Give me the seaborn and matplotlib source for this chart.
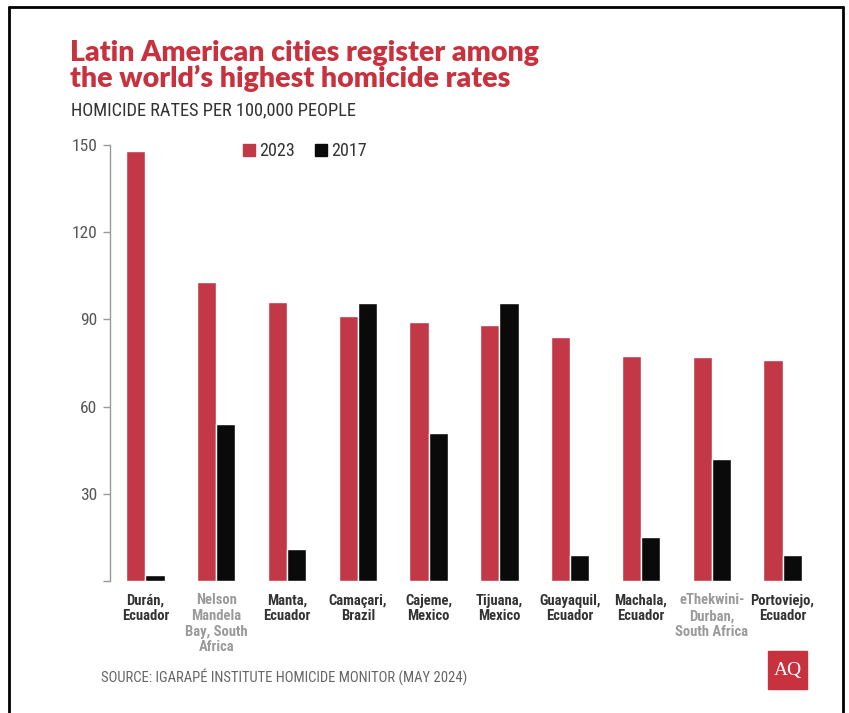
import matplotlib
matplotlib.use("Agg")
import matplotlib.pyplot as plt
from matplotlib.patches import Rectangle
from matplotlib.lines import Line2D
from matplotlib import font_manager
import seaborn as sns
import pandas as pd

cities = ["Durán,\nEcuador", "Nelson\nMandela\nBay, South\nAfrica", "Manta,\nEcuador",
          "Camaçari,\nBrazil", "Cajeme,\nMexico", "Tijuana,\nMexico", "Guayaquil,\nEcuador",
          "Machala,\nEcuador", "eThekwini-\nDurban,\nSouth Africa", "Portoviejo,\nEcuador"]
rate_2023 = [148, 103, 96, 91, 89, 88, 84, 77.5, 77, 76]
rate_2017 = [2, 54, 11, 95.5, 51, 95.5, 9, 15, 42, 9]
years = ["2023", "2017"]
y_ticks = [0, 30, 60, 90, 120, 150]
y_tick_labels = ["", "30", "60", "90", "120", "150"]
grey_labels = [1, 8]

RED = "#C33847"
BLACK = "#0a0a0a"

df = pd.DataFrame({
    "city": cities * 2,
    "year": [years[0]] * len(cities) + [years[1]] * len(cities),
    "rate": rate_2023 + rate_2017,
})

sns.set_theme(style="white")
names = {f.name for f in font_manager.fontManager.ttflist}
cond = [n for n in ["Liberation Sans Narrow", "Roboto Condensed", "Open Sans Condensed",
                    "DejaVu Sans Condensed"] if n in names]
COND = cond[0] if cond else "DejaVu Sans"
plt.rcParams["font.family"] = [COND, "DejaVu Sans"]
plt.rcParams["font.stretch"] = "condensed"

fig = plt.figure(figsize=(8.49, 7.13), dpi=100)
ax = fig.add_axes([110 / 849, 1 - 581 / 713, (818 - 110) / 849, (581 - 145) / 713])

sns.barplot(data=df, x="city", y="rate", hue="year", hue_order=years,
            palette={"2023": RED, "2017": BLACK}, width=0.54, gap=0,
            saturation=1, ax=ax, legend=False)

ax.set_xlim(-0.5, len(cities) - 0.5)
ax.set_ylim(0, 150)
ax.set_yticks(y_ticks)
ax.set_yticklabels(y_tick_labels, color="#555555", fontsize=12.5)
ax.set_xlabel("")
ax.set_ylabel("")
for s in ["top", "right", "bottom"]:
    ax.spines[s].set_visible(False)
ax.spines["left"].set_color("#999999")
ax.spines["left"].set_linewidth(1)
ax.tick_params(axis="y", direction="out", length=5, width=1, color="#999999", pad=4, left=True)
ax.tick_params(axis="x", length=0, pad=9)
ax.set_xticks(range(len(cities)))
ax.set_xticklabels(cities, fontsize=10.5, fontweight="bold", linespacing=1.15, va="top")
for i, lbl in enumerate(ax.get_xticklabels()):
    lbl.set_color("#9a9a9a" if i in grey_labels else "#333333")

# legend
handles = [Rectangle((0, 0), 1, 1, color=RED), Rectangle((0, 0), 1, 1, color=BLACK)]
fig.legend(handles, years, loc="center left", bbox_to_anchor=(243 / 849, 1 - 151 / 713),
           ncol=2, frameon=False, fontsize=13, handlelength=0.65, handleheight=0.65,
           handletextpad=0.25, columnspacing=1.1, borderpad=0, borderaxespad=0,
           labelcolor="#333333")

# titles
fig.text(70 / 849, 1 - 40 / 713, "Latin American cities register among\nthe world’s highest homicide rates",
         family=["Lato", "DejaVu Sans"], fontstretch="normal", fontweight="heavy", fontsize=20.5,
         color="#C8323F", va="top", ha="left", linespacing=0.95)
fig.text(71 / 849, 1 - 110 / 713, "HOMICIDE RATES PER 100,000 PEOPLE",
         fontsize=13.2, color="#333333", va="center", ha="left")
fig.text(101 / 849, 1 - 677 / 713, "SOURCE: IGARAPÉ INSTITUTE HOMICIDE MONITOR (MAY 2024)",
         fontsize=10.5, color="#666666", va="center", ha="left")

# AQ logo
fig.patches.append(Rectangle((768 / 849, 1 - 689 / 713), 39 / 849, 38 / 713,
                             transform=fig.transFigure, color="#C8323F", zorder=2))
fig.text(787.5 / 849, 1 - 670 / 713, "AQ", family=["Liberation Serif", "DejaVu Serif"],
         fontstretch="normal", fontsize=14, color="white", ha="center", va="center", zorder=3)

# frame border
for xs, ys in [([9 / 849, 9 / 849], [0, 1 - 6.5 / 713]),
               ([9 / 849, 843 / 849], [1 - 6.5 / 713, 1 - 6.5 / 713]),
               ([843 / 849, 843 / 849], [0, 1 - 6.5 / 713])]:
    fig.lines.append(Line2D(xs, ys, transform=fig.transFigure, color="black", linewidth=2))

fig.savefig("out.png", dpi=100, facecolor="white")
